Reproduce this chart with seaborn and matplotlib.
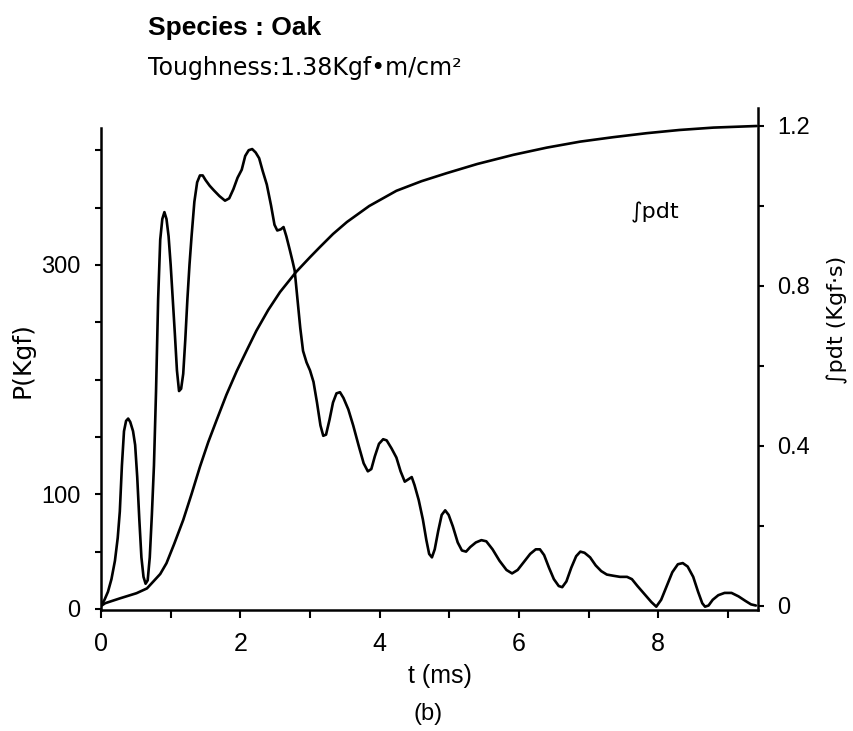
import matplotlib
matplotlib.use("Agg")
import matplotlib.pyplot as plt
import seaborn as sns
import pandas as pd
from matplotlib.ticker import FixedLocator

sns.set_theme(style="white")
plt.rcParams["font.family"] = ["Liberation Sans", "DejaVu Sans"]

# ---- data ----
t_p = [0.00, 0.05, 0.10, 0.15, 0.20, 0.24, 0.27, 0.30, 0.33, 0.36, 0.39, 0.42,
       0.46, 0.49, 0.52, 0.55, 0.58, 0.61, 0.64, 0.67, 0.70, 0.73, 0.76, 0.79,
       0.82, 0.85, 0.88, 0.91, 0.94, 0.97, 1.00, 1.03, 1.06, 1.09, 1.12, 1.15,
       1.18, 1.21, 1.24, 1.27, 1.30, 1.34, 1.38, 1.42, 1.46, 1.50, 1.56, 1.62,
       1.70, 1.78, 1.84, 1.90, 1.96, 2.02, 2.07, 2.12, 2.17, 2.22, 2.27, 2.32,
       2.38, 2.44, 2.49, 2.53, 2.58, 2.62, 2.66, 2.71, 2.75, 2.78, 2.82, 2.86,
       2.90, 2.95, 3.00, 3.05, 3.10, 3.15, 3.19, 3.23, 3.28, 3.33, 3.38, 3.43,
       3.48, 3.55, 3.62, 3.70, 3.77, 3.83, 3.88, 3.93, 3.99, 4.05, 4.10, 4.17,
       4.24, 4.30, 4.36, 4.41, 4.46, 4.50, 4.56, 4.62, 4.67, 4.71, 4.75, 4.79,
       4.84, 4.89, 4.94, 4.99, 5.05, 5.12, 5.18, 5.24, 5.30, 5.38, 5.46, 5.53,
       5.62, 5.72, 5.82, 5.90, 5.98, 6.07, 6.16, 6.24, 6.30, 6.36, 6.43, 6.50,
       6.57, 6.62, 6.68, 6.75, 6.82, 6.88, 6.94, 7.02, 7.10, 7.18, 7.26, 7.35,
       7.45, 7.55, 7.62, 7.70, 7.80, 7.90, 7.97, 8.04, 8.12, 8.20, 8.28, 8.35,
       8.42, 8.50, 8.57, 8.63, 8.67, 8.72, 8.78, 8.86, 8.95, 9.05, 9.15, 9.25,
       9.33, 9.40]
p_kgf = [3, 8, 15, 26, 42, 62, 85, 125, 155, 164, 166, 163,
         155, 143, 115, 78, 45, 28, 22, 25, 45, 82, 125, 190,
         270, 322, 340, 346, 340, 325, 300, 270, 240, 208, 190, 192,
         205, 235, 270, 300, 325, 355, 372, 378, 378, 374, 369, 365,
         360, 356, 358, 366, 376, 383, 395, 400, 401, 398, 393, 382,
         370, 352, 335, 330, 331, 333, 325, 313, 303, 295, 270, 245,
         225, 215, 208, 198, 180, 160, 151, 152, 165, 180, 188, 189,
         184, 174, 160, 142, 127, 120, 122, 133, 144, 148, 147, 140,
         132, 120, 111, 113, 115, 108, 95, 78, 60, 48, 45, 52,
         68, 82, 86, 82, 72, 58, 51, 50, 54, 58, 60, 59,
         52, 42, 34, 31, 34, 41, 48, 52, 52, 47, 36, 26,
         20, 19, 24, 36, 46, 50, 49, 45, 38, 33, 30, 29,
         28, 28, 26, 20, 13, 6, 2, 8, 20, 32, 39, 40,
         37, 28, 15, 5, 2, 3, 8, 12, 14, 14, 11, 7,
         4, 3]

t_i = [0.00, 0.06, 0.27, 0.51, 0.66, 0.75, 0.85, 0.94, 1.05, 1.18, 1.30, 1.42,
       1.54, 1.66, 1.80, 1.95, 2.10, 2.23, 2.40, 2.57, 2.80, 3.00, 3.14, 3.33,
       3.53, 3.85, 4.24, 4.60, 4.96, 5.40, 5.92, 6.40, 6.88, 7.35, 7.83, 8.30,
       8.79, 9.41]
impulse = [0.0, 0.007, 0.019, 0.032, 0.044, 0.061, 0.080, 0.107, 0.155, 0.215, 0.280, 0.348,
           0.410, 0.465, 0.528, 0.588, 0.642, 0.688, 0.740, 0.785, 0.835, 0.872, 0.897, 0.930,
           0.960, 1.000, 1.038, 1.062, 1.082, 1.105, 1.128, 1.146, 1.161, 1.172, 1.182, 1.190,
           1.196, 1.200]

x_major = [0, 2, 4, 6, 8]
x_minor = [1, 3, 5, 7, 9]
p_major = [0, 100, 300]
p_minor = [50, 150, 200, 250, 350, 400]
i_major = [0, 0.4, 0.8, 1.2]
i_minor = [0.2, 0.6, 1.0]
i_labels = ["0", "0.4", "0.8", "1.2"]

df_p = pd.DataFrame({"t": t_p, "P": p_kgf})
df_i = pd.DataFrame({"t": t_i, "I": impulse})

W, H = 854, 731
fig = plt.figure(figsize=(W / 100, H / 100), dpi=100)
ax = fig.add_axes([101 / W, 121 / H, 657 / W, 502 / H])
ax2 = ax.twinx()

lw = 1.9
sns.lineplot(data=df_p, x="t", y="P", ax=ax, color="black", linewidth=lw)
sns.lineplot(data=df_i, x="t", y="I", ax=ax2, color="black", linewidth=lw)

ax.set_xlim(0, 9.43)
ax.set_ylim(-0.9, 436.8)
ax2.set_ylim(-0.01, 1.245)

for a in (ax, ax2):
    a.spines["top"].set_visible(False)
    for s in a.spines.values():
        s.set_linewidth(1.8)
        s.set_color("black")
ax.spines["right"].set_visible(False)
ax2.spines["left"].set_visible(False)
ax2.spines["bottom"].set_visible(False)
ax.spines["left"].set_bounds(-0.9, 419)

ax.xaxis.set_major_locator(FixedLocator(x_major))
ax.xaxis.set_minor_locator(FixedLocator(x_minor))
ax.yaxis.set_major_locator(FixedLocator(p_major))
ax.yaxis.set_minor_locator(FixedLocator(p_minor))
ax2.yaxis.set_major_locator(FixedLocator(i_major))
ax2.yaxis.set_minor_locator(FixedLocator(i_minor))
ax2.set_yticklabels(i_labels)

ax.tick_params(axis="x", which="both", direction="out", length=6, width=1.5,
               color="black", labelsize=18, pad=10, labelcolor="black", bottom=True)
ax.tick_params(axis="y", which="both", direction="out", length=4, width=1.5,
               color="black", labelsize=17, pad=11, labelcolor="black", left=True)
ax2.tick_params(axis="y", which="both", direction="out", length=4, width=1.5,
                color="black", labelsize=17, pad=10, labelcolor="black", right=True)

ax.set_xlabel("t (ms)", fontsize=18, color="black")
ax.xaxis.set_label_coords((440 - 101) / 657, -(664 - 610) / 502)
ax.set_ylabel("")
ax2.set_ylabel("")

fig.text(23 / W, 1 - 360 / H, "P(Kgf)", fontsize=18, rotation=90,
         ha="center", va="center", color="black", family=["DejaVu Sans"])
fig.text(837 / W, 1 - 320 / H, "\u222bpdt (Kgf\u00b7s)", fontsize=16, rotation=90,
         ha="center", va="center", color="black", family=["DejaVu Sans"])

ax2.text(7.95, 0.985, "\u222bpdt", fontsize=16, ha="center", va="center",
         family=["DejaVu Sans"], color="black")

fig.text(148 / W, 1 - 28 / H, "Species : Oak", fontsize=19, fontweight="bold",
         ha="left", va="center", color="black")
fig.text(148 / W, 1 - 68 / H, "Toughness:1.38Kgf\u2022m/cm\u00b2", fontsize=17,
         ha="left", va="center", color="black", family=["DejaVu Sans"])
fig.text(428 / W, 1 - 714 / H, "(b)", fontsize=17, ha="center", va="center",
         color="black")

ax.grid(False)
ax2.grid(False)
fig.savefig("out.png", dpi=100, facecolor="white")
